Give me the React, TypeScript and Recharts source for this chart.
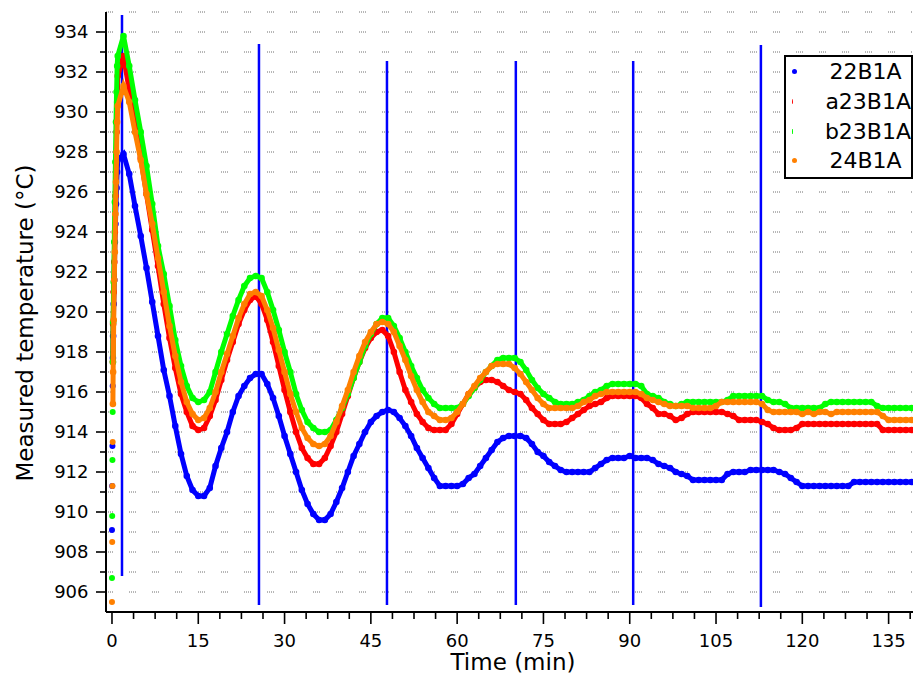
import React from "react";
import {
  CartesianGrid,
  ComposedChart,
  Label,
  Legend,
  ReferenceLine,
  Scatter,
  XAxis,
  YAxis,
} from "recharts";

const FONT = "'DejaVu Sans', sans-serif";

const seriesNames = ["22B1A", "a23B1A", "b23B1A", "24B1A"];
const seriesColors = ["#0000ff", "#ff0000", "#00ff00", "#ff8000"];

// first readings right at switch-on, drawn as loose dots
const lowTimes = [0, 0.04, 0.08, 0.12];
const low22B1A = [909.1, 911.3, 913.3, 916.3];
const lowA23B1A: (number | null)[] = [null, null, null, null];
const lowB23B1A = [906.7, 909.8, 912.6, 915.0];
const low24B1A = [905.5, 908.5, 911.3, 913.5];

// minutes
const minutes = [
  0.16, 0.2, 0.3, 0.4, 0.5, 0.6, 0.7, 0.8, 0.9,
  1, 2, 3, 4, 5, 6, 7, 8, 9, 10, 11, 12, 13, 14, 15, 16, 17, 18, 19, 20,
  21, 22, 23, 24, 25, 26, 27, 28, 29, 30, 31, 32, 33, 34, 35, 36, 37, 38, 39, 40,
  41, 42, 43, 44, 45, 46, 47, 48, 49, 50, 51, 52, 53, 54, 55, 56, 57, 58, 59, 60,
  61, 62, 63, 64, 65, 66, 67, 68, 69, 70, 71, 72, 73, 74, 75, 76, 77, 78, 79, 80,
  81, 82, 83, 84, 85, 86, 87, 88, 89, 90, 91, 92, 93, 94, 95, 96, 97, 98, 99, 100,
  101, 102, 103, 104, 105, 106, 107, 108, 109, 110, 111, 112, 113, 114, 115, 116, 117, 118, 119, 120,
  121, 122, 123, 124, 125, 126, 127, 128, 129, 130, 131, 132, 133, 134, 135, 136, 137, 138, 139,
];

const temp22B1A = [
  917.7, 918.8, 920.4, 921.6, 923.5, 924.4, 925.4, 926.2, 927.0,
  927.6, 927.9, 926.9, 925.3, 923.8, 922.2, 920.5, 918.8, 917.1, 915.8,
  914.3, 912.9, 911.8, 911.1, 910.8, 910.8, 911.2, 912.3, 913.2, 914.0,
  915.0, 915.8, 916.3, 916.7, 916.9, 916.9, 916.4, 915.7, 914.8, 913.8,
  912.9, 912.0, 911.1, 910.4, 909.9, 909.6, 909.6, 909.9, 910.5, 911.2,
  912.0, 912.8, 913.4, 914.0, 914.5, 914.8, 915.0, 915.1, 915.0, 914.7,
  914.3, 913.8, 913.2, 912.7, 912.2, 911.7, 911.3, 911.3, 911.3, 911.3,
  911.4, 911.7, 911.9, 912.3, 912.7, 913.1, 913.5, 913.7, 913.8, 913.8,
  913.8, 913.7, 913.4, 913.0, 912.8, 912.5, 912.3, 912.1, 912.0, 912.0,
  912.0, 912.0, 912.0, 912.2, 912.4, 912.6, 912.7, 912.7, 912.7, 912.8,
  912.7, 912.7, 912.7, 912.6, 912.4, 912.3, 912.2, 912.0, 911.9, 911.8,
  911.6, 911.6, 911.6, 911.6, 911.6, 911.6, 911.9, 912.0, 912.0, 912.0,
  912.1, 912.1, 912.1, 912.1, 912.1, 912.0, 911.9, 911.7, 911.5, 911.3,
  911.3, 911.3, 911.3, 911.3, 911.3, 911.3, 911.3, 911.3, 911.5, 911.5,
  911.5, 911.5, 911.5, 911.5, 911.5, 911.5, 911.5, 911.5, 911.5,
];

const tempA23B1A = [
  917.5, 919.4, 921.0, 922.5, 924.0, 925.8, 927.5, 929.0, 930.5,
  931.8, 932.8, 931.1, 929.4, 927.7, 925.9, 924.1, 922.3, 920.4, 918.7,
  917.2, 915.9, 915.0, 914.3, 914.1, 914.2, 914.8, 915.6, 916.6, 917.6,
  918.5, 919.4, 920.1, 920.6, 920.8, 920.4, 919.6, 918.5, 917.3, 916.1,
  915.0, 914.0, 913.2, 912.7, 912.4, 912.4, 912.7, 913.3, 914.0, 914.9,
  915.8, 916.7, 917.5, 918.2, 918.7, 919.0, 919.1, 918.8, 918.0, 917.0,
  916.1, 915.5, 914.9, 914.5, 914.2, 914.1, 914.1, 914.1, 914.4, 914.9,
  915.4, 915.9, 916.2, 916.5, 916.6, 916.6, 916.5, 916.3, 916.1, 916.0,
  915.9, 915.6, 915.2, 914.9, 914.6, 914.4, 914.4, 914.4, 914.5, 914.7,
  914.9, 915.1, 915.3, 915.4, 915.5, 915.7, 915.8, 915.8, 915.8, 915.8,
  915.8, 915.7, 915.4, 915.2, 914.9, 914.9, 914.8, 914.6, 914.7, 914.9,
  915.0, 915.0, 915.0, 915.0, 915.0, 915.0, 914.9, 914.8, 914.6, 914.6,
  914.6, 914.6, 914.5, 914.4, 914.2, 914.1, 914.1, 914.1, 914.2, 914.4,
  914.4, 914.4, 914.4, 914.4, 914.4, 914.4, 914.4, 914.4, 914.4, 914.4,
  914.4, 914.4, 914.4, 914.1, 914.1, 914.1, 914.1, 914.1, 914.1,
];

const tempB23B1A = [
  917.5, 919.5, 921.5, 923.5, 925.5, 927.5, 929.5, 931.0, 932.3,
  932.8, 933.8, 932.3, 930.6, 929.0, 927.3, 925.4, 923.3, 921.9, 920.3,
  918.6, 917.3, 916.3, 915.7, 915.5, 915.6, 916.0, 917.0, 918.0, 918.9,
  919.8, 920.6, 921.3, 921.7, 921.8, 921.7, 921.0, 920.1, 919.1, 918.0,
  917.0, 915.9, 915.1, 914.5, 914.2, 914.0, 914.0, 914.1, 914.6, 915.2,
  915.9, 916.7, 917.5, 918.3, 918.9, 919.4, 919.7, 919.7, 919.3, 918.7,
  918.0, 917.3, 916.7, 916.1, 915.7, 915.4, 915.2, 915.2, 915.2, 915.2,
  915.4, 915.8, 916.2, 916.6, 917.0, 917.3, 917.6, 917.7, 917.7, 917.7,
  917.5, 917.1, 916.6, 916.2, 915.9, 915.7, 915.5, 915.4, 915.4, 915.4,
  915.5, 915.6, 915.8, 916.0, 916.1, 916.3, 916.4, 916.4, 916.4, 916.4,
  916.4, 916.3, 915.9, 915.8, 915.7, 915.5, 915.4, 915.3, 915.4, 915.5,
  915.5, 915.5, 915.5, 915.5, 915.5, 915.5, 915.6, 915.8, 915.8, 915.8,
  915.8, 915.8, 915.8, 915.6, 915.5, 915.5, 915.4, 915.2, 915.2, 915.2,
  915.2, 915.2, 915.2, 915.4, 915.5, 915.5, 915.5, 915.5, 915.5, 915.5,
  915.5, 915.5, 915.3, 915.2, 915.2, 915.2, 915.2, 915.2, 915.2,
];

const temp24B1A = [
  915.4, 917.0, 919.6, 921.6, 923.0, 924.9, 926.5, 928.0, 929.5,
  930.3, 931.3, 930.5, 929.0, 927.6, 925.9, 924.4, 922.7, 921.0, 919.3,
  917.8, 916.5, 915.5, 914.9, 914.6, 914.7, 915.2, 916.0, 917.0, 917.9,
  918.8, 919.7, 920.4, 920.9, 921.0, 920.8, 920.1, 919.2, 918.1, 917.0,
  915.9, 915.0, 914.2, 913.7, 913.4, 913.3, 913.4, 913.8, 914.5, 915.3,
  916.1, 917.0, 917.8, 918.5, 919.0, 919.4, 919.5, 919.4, 919.0, 918.3,
  917.6, 916.8, 916.1, 915.5, 915.0, 914.8, 914.6, 914.6, 914.7, 915.0,
  915.4, 915.9, 916.3, 916.7, 917.0, 917.3, 917.4, 917.4, 917.4, 917.2,
  916.9, 916.5, 916.1, 915.7, 915.4, 915.2, 915.2, 915.2, 915.2, 915.2,
  915.3, 915.5, 915.6, 915.8, 915.9, 916.0, 916.0, 916.0, 916.0, 916.0,
  916.0, 915.9, 915.7, 915.6, 915.5, 915.4, 915.3, 915.3, 915.3, 915.3,
  915.2, 915.2, 915.2, 915.2, 915.3, 915.5, 915.5, 915.5, 915.5, 915.5,
  915.5, 915.5, 915.4, 915.1, 915.0, 915.0, 915.0, 915.0, 915.0, 914.9,
  915.0, 914.9, 915.0, 915.0, 914.9, 915.0, 915.0, 915.0, 915.0, 915.0,
  915.0, 915.0, 915.0, 914.8, 914.6, 914.6, 914.6, 914.6, 914.6,
];

// blue vertical markers at the temperature peaks
const markerTimes = [1.74, 25.55, 47.8, 70.2, 90.6, 112.8];
const markerTops = [934.85, 933.4, 932.55, 932.55, 932.55, 933.35];
const markerBottoms = [906.8, 905.35, 905.35, 905.35, 905.35, 905.25];

const xTicks = [
  0, 3.75, 7.5, 11.25, 15, 18.75, 22.5, 26.25, 30, 33.75, 37.5, 41.25, 45,
  48.75, 52.5, 56.25, 60, 63.75, 67.5, 71.25, 75, 78.75, 82.5, 86.25, 90,
  93.75, 97.5, 101.25, 105, 108.75, 112.5, 116.25, 120, 123.75, 127.5,
  131.25, 135, 138.75,
];
const yTicks = [
  906, 907, 908, 909, 910, 911, 912, 913, 914, 915, 916, 917, 918, 919, 920,
  921, 922, 923, 924, 925, 926, 927, 928, 929, 930, 931, 932, 933, 934,
];

const toPoints = (times: number[], temps: (number | null)[]) =>
  times
    .map((t, i) => ({ t, temp: temps[i] }))
    .filter((p) => p.temp !== null);

const lowSeries = [low22B1A, lowA23B1A, lowB23B1A, low24B1A];
const mainSeries = [temp22B1A, tempA23B1A, tempB23B1A, temp24B1A];

function LeftTick({ x, y, payload }: any) {
  const major = payload.value % 2 === 0;
  return (
    <g>
      <line x1={x - (major ? 10 : 6)} x2={x} y1={y} y2={y} stroke="#000" strokeWidth={1.6} />
      {major && (
        <text x={x - 17.5} y={y + 5.5} textAnchor="end" fontFamily={FONT} fontSize={18} fill="#000">
          {payload.value}
        </text>
      )}
    </g>
  );
}

function BottomTick({ x, y, payload }: any) {
  const major = payload.value % 15 === 0;
  return (
    <g>
      <line x1={x} x2={x} y1={y} y2={y + (major ? 12 : 7)} stroke="#000" strokeWidth={1.6} />
      {major && (
        <text x={x} y={y + 34.5} textAnchor="middle" fontFamily={FONT} fontSize={18} fill="#000">
          {payload.value}
        </text>
      )}
    </g>
  );
}

function TopTick({ x, y, payload }: any) {
  const major = payload.value % 15 === 0;
  return <line x1={x} x2={x} y1={y} y2={y + (major ? 11 : 6)} stroke="#000" strokeWidth={1.6} />;
}

function LegendBox() {
  return (
    <div
      style={{
        boxSizing: "border-box",
        width: 129,
        height: 124,
        border: "2.5px solid #000",
        background: "#fff",
        fontFamily: FONT,
        fontSize: 22,
        color: "#000",
        whiteSpace: "nowrap",
      }}
    >
      {seriesNames.map((name, i) => (
        <div key={name} style={{ display: "flex", alignItems: "center", height: 29.7 }}>
          <span
            style={{
              display: "inline-block",
              width: 5,
              height: 5,
              borderRadius: "50%",
              background: seriesColors[i],
              marginLeft: 5.5,
              marginRight: 33,
            }}
          />
          <span>{name}</span>
        </div>
      ))}
    </div>
  );
}

export default function App() {
  return (
    <div style={{ position: "absolute", left: 0, top: 0, width: 913, height: 682, background: "#fff" }}>
      <ComposedChart width={913} height={682} margin={{ top: 12, right: 0, bottom: 0, left: 0 }}>
        <CartesianGrid
          vertical={false}
          stroke="#6e6e6e"
          strokeWidth={1}
          strokeDasharray="1 1 1 1 1 1 1 16"
        />
        <XAxis
          xAxisId="bottom"
          dataKey="t"
          type="number"
          domain={[-1.04, 139.24]}
          allowDataOverflow
          ticks={xTicks}
          interval={0}
          height={70}
          tickSize={0}
          tickMargin={0}
          tickLine={false}
          tick={<BottomTick />}
          axisLine={{ stroke: "#000", strokeWidth: 2 }}
        >
          <Label
            content={() => (
              <text x={513} y={670} textAnchor="middle" fontFamily={FONT} fontSize={23} fill="#000">
                Time (min)
              </text>
            )}
          />
        </XAxis>
        <XAxis
          xAxisId="top"
          orientation="top"
          dataKey="t"
          type="number"
          domain={[-1.04, 139.24]}
          allowDataOverflow
          ticks={xTicks}
          interval={0}
          height={0}
          tickSize={0}
          tickMargin={0}
          tickLine={false}
          tick={<TopTick />}
          axisLine={{ stroke: "#000", strokeWidth: 2 }}
        >
          <Label
            content={() => (
              <text x={484.5} y={47} textAnchor="middle" fontFamily={FONT} fontSize={24} fill="#000">
                0.75%CH4 + 0.25%O2
              </text>
            )}
          />
        </XAxis>
        <YAxis
          dataKey="temp"
          type="number"
          domain={[905, 935]}
          allowDataOverflow
          ticks={yTicks}
          interval={0}
          width={106}
          tickSize={0}
          tickMargin={0}
          tickLine={false}
          tick={<LeftTick />}
          axisLine={{ stroke: "#000", strokeWidth: 2 }}
        >
          <Label
            content={() => (
              <text
                x={25}
                y={323}
                transform="rotate(-90 25 323)"
                textAnchor="middle"
                dominantBaseline="central"
                fontFamily={FONT}
                fontSize={23}
                fill="#000"
              >
                Measured temperature (°C)
              </text>
            )}
          />
        </YAxis>
        {seriesNames.map((name, i) => (
          <Scatter
            key={`low-${name}`}
            xAxisId="bottom"
            data={toPoints(lowTimes, lowSeries[i])}
            fill={seriesColors[i]}
            legendType="none"
            isAnimationActive={false}
            shape={(p: any) => <circle cx={p.cx} cy={p.cy} r={3} fill={seriesColors[i]} />}
          />
        ))}
        {seriesNames.map((name, i) => (
          <Scatter
            key={name}
            name={name}
            xAxisId="bottom"
            data={toPoints(minutes, mainSeries[i])}
            fill={seriesColors[i]}
            line={{ stroke: seriesColors[i], strokeWidth: 5 }}
            lineType="joint"
            isAnimationActive={false}
            shape={(p: any) => <circle cx={p.cx} cy={p.cy} r={3.3} fill={seriesColors[i]} />}
          />
        ))}
        {markerTimes.map((t, i) => (
          <ReferenceLine
            key={t}
            xAxisId="bottom"
            segment={[
              { x: t, y: markerBottoms[i] },
              { x: t, y: markerTops[i] },
            ]}
            stroke="#0000ff"
            strokeWidth={2.5}
          />
        ))}
        <Legend
          layout="horizontal"
          verticalAlign="middle"
          align="center"
          wrapperStyle={{ left: 784, top: 55, width: 129, height: 124 }}
          content={() => <LegendBox />}
        />
      </ComposedChart>
    </div>
  );
}
